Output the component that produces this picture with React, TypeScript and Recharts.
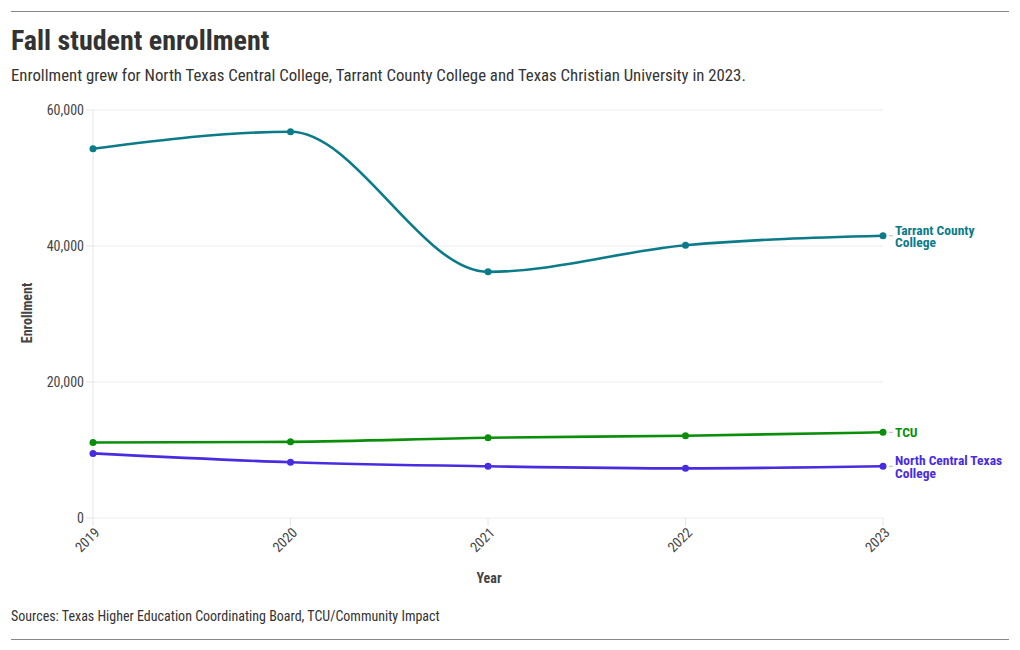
import { LineChart, Line, XAxis, YAxis, CartesianGrid } from "recharts";

// Datos de matrícula (otoño)
const years = ["2019", "2020", "2021", "2022", "2023"];
const tarrantCounty = [54300, 56800, 36200, 40100, 41500];
const tcu = [11100, 11200, 11800, 12100, 12600];
const northCentralTexas = [9500, 8200, 7600, 7300, 7600];
const yTicks = [0, 20000, 40000, 60000];

const FONT = '"Roboto Condensed", "Liberation Sans Narrow", "Arial Narrow", sans-serif';
const TEAL = "#0b7b89";
const GREEN = "#0b8f0b";
const VIOLET = "#4a2ce0";

const data = years.map((year, i) => ({
  year,
  tarrant: tarrantCounty[i],
  tcu: tcu[i],
  nctc: northCentralTexas[i],
}));

// Etiqueta al final de cada línea
const endLabel = (lines: string[], color: string) => (props: any) => {
  const { x, y, index } = props;
  if (index !== years.length - 1) return null;
  const lineH = 12.5;
  const startY = y - ((lines.length - 1) * lineH) / 2;
  return (
    <g>
      <line x1={x + 6} x2={x + 10} y1={y} y2={y} stroke="#bbb" strokeWidth={1} />
      <text
        x={x + 12}
        y={startY}
        fill={color}
        fontFamily={FONT}
        fontSize={13.5}
        fontWeight={700}
        dominantBaseline="central"
      >
        {lines.map((l, i) => (
          <tspan key={i} x={x + 12} y={startY + i * lineH}>
            {l}
          </tspan>
        ))}
      </text>
    </g>
  );
};

const YearTick = (props: any) => {
  const { x, y, payload } = props;
  return (
    <text
      transform={`translate(${x + 4},${y + 2}) rotate(-45)`}
      textAnchor="end"
      dominantBaseline="central"
      fill="#444"
      fontFamily={FONT}
      fontSize={14}
    >
      {payload.value}
    </text>
  );
};

export default function App() {
  return (
    <div
      style={{
        position: "absolute",
        top: 0,
        left: 0,
        width: 1020,
        height: 650,
        background: "#fff",
        fontFamily: FONT,
        color: "#333",
      }}
    >
      <div style={{ position: "absolute", left: 11, right: 11, top: 11, borderTop: "1px solid #888" }} />
      <div style={{ position: "absolute", left: 11, top: 24, fontSize: 28, fontWeight: 700, color: "#333" }}>
        Fall student enrollment
      </div>
      <div style={{ position: "absolute", left: 11, top: 65, fontSize: 16.8, color: "#333", whiteSpace: "nowrap" }}>
        Enrollment grew for North Texas Central College, Tarrant County College and Texas Christian University in 2023.
      </div>

      <div style={{ position: "absolute", left: 0, top: 0 }}>
        <LineChart
          width={1020}
          height={650}
          data={data}
          margin={{ top: 110, right: 137, bottom: 72, left: 0 }}
        >
          <CartesianGrid vertical={false} stroke="#ececec" />
          <XAxis
            dataKey="year"
            height={60}
            axisLine={false}
            tickLine={{ stroke: "#e6e6e6" }}
            tickSize={8}
            tick={<YearTick />}
            interval={0}
          />
          <YAxis
            width={93}
            domain={[0, 60000]}
            ticks={yTicks}
            axisLine={{ stroke: "#e6e6e6" }}
            tickLine={{ stroke: "#e6e6e6" }}
            tickSize={7}
            tick={{ fill: "#444", fontSize: 14, fontFamily: FONT }}
            tickFormatter={(v: number) => v.toLocaleString("en-US")}
          />
          <Line
            type="monotone"
            dataKey="tarrant"
            stroke={TEAL}
            strokeWidth={2.6}
            dot={{ r: 3.5, fill: TEAL, stroke: TEAL, strokeWidth: 0 }}
            isAnimationActive={false}
            label={endLabel(["Tarrant County", "College"], TEAL)}
          />
          <Line
            type="monotone"
            dataKey="tcu"
            stroke={GREEN}
            strokeWidth={2.6}
            dot={{ r: 3.5, fill: GREEN, stroke: GREEN, strokeWidth: 0 }}
            isAnimationActive={false}
            label={endLabel(["TCU"], GREEN)}
          />
          <Line
            type="monotone"
            dataKey="nctc"
            stroke={VIOLET}
            strokeWidth={2.6}
            dot={{ r: 3.5, fill: VIOLET, stroke: VIOLET, strokeWidth: 0 }}
            isAnimationActive={false}
            label={endLabel(["North Central Texas", "College"], VIOLET)}
          />
        </LineChart>
      </div>

      <div
        style={{
          position: "absolute",
          left: 27,
          top: 313,
          transform: "translate(-50%, -50%) rotate(-90deg)",
          fontSize: 14,
          fontWeight: 700,
          color: "#444",
          whiteSpace: "nowrap",
        }}
      >
        Enrollment
      </div>
      <div
        style={{
          position: "absolute",
          left: 489,
          top: 578,
          transform: "translate(-50%, -50%)",
          fontSize: 14,
          fontWeight: 700,
          color: "#444",
        }}
      >
        Year
      </div>
      <div style={{ position: "absolute", left: 11, top: 608, fontSize: 14, color: "#333" }}>
        Sources: Texas Higher Education Coordinating Board, TCU/Community Impact
      </div>
      <div style={{ position: "absolute", left: 11, right: 11, top: 639, borderTop: "1px solid #888" }} />
    </div>
  );
}
